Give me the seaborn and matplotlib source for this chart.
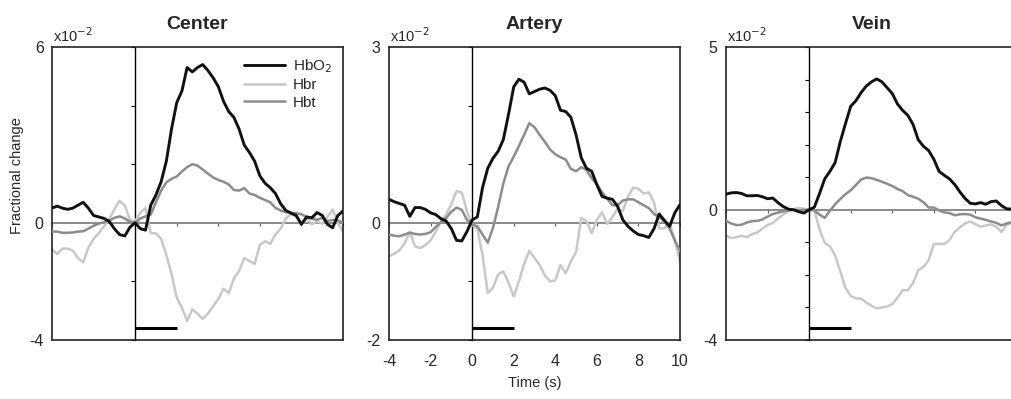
import numpy as np
import pandas as pd
import matplotlib
matplotlib.use("Agg")
import matplotlib.pyplot as plt
import matplotlib.transforms as mtransforms
import seaborn as sns

# time axis (s), one sample every 0.25 s
time = np.arange(-4, 10.01, 0.25)

# values in units of 1e-2 (fractional change)
center_hbo2 = [0.5, 0.57, 0.5, 0.46, 0.5, 0.6, 0.7, 0.5, 0.25, 0.2, 0.15, 0.05,
               -0.2, -0.4, -0.45, -0.15, 0.0, -0.2, -0.25, 0.6, 0.95, 1.4, 2.1, 3.2,
               4.1, 4.5, 5.3, 5.15, 5.3, 5.4, 5.2, 4.95, 4.65, 4.15, 3.8, 3.6,
               3.2, 2.65, 2.4, 2.1, 1.6, 1.35, 1.2, 1.0, 0.65, 0.42, 0.33, 0.25,
               -0.05, 0.2, 0.17, 0.35, 0.25, -0.05, -0.17, 0.25, 0.4]
center_hbr = [-0.9, -1.07, -0.88, -0.88, -0.95, -1.2, -1.35, -0.85, -0.55, -0.35, -0.12, 0.12,
              0.46, 0.75, 0.6, 0.1, 0.05, 0.35, 0.5, -0.35, -0.36, -0.55, -1.1, -1.75,
              -2.55, -2.9, -3.35, -2.95, -3.1, -3.28, -3.1, -2.85, -2.6, -2.25, -2.4, -1.9,
              -1.65, -1.2, -1.3, -1.4, -0.75, -0.63, -0.72, -0.4, -0.2, 0.15, 0.3, 0.2,
              -0.05, 0.15, -0.05, 0.05, -0.03, 0.2, 0.45, 0.0, -0.3]
center_hbt = [-0.3, -0.3, -0.34, -0.34, -0.33, -0.3, -0.29, -0.2, -0.1, -0.03, 0.02, 0.07,
              0.17, 0.22, 0.15, 0.03, 0.0, 0.15, 0.22, 0.28, 0.7, 1.1, 1.38, 1.5,
              1.58, 1.75, 1.9, 2.0, 1.95, 1.82, 1.68, 1.55, 1.46, 1.4, 1.31, 1.12,
              1.1, 1.18, 1.0, 0.95, 0.85, 0.78, 0.7, 0.51, 0.42, 0.36, 0.34, 0.33,
              0.29, 0.2, 0.14, 0.1, 0.17, 0.06, 0.1, 0.08, 0.0]

artery_hbo2 = [0.4, 0.36, 0.33, 0.3, 0.11, 0.26, 0.26, 0.23, 0.17, 0.14, 0.07, 0.03,
               -0.1, -0.3, -0.31, -0.15, 0.05, 0.1, 0.6, 0.93, 1.1, 1.22, 1.42, 1.85,
               2.32, 2.45, 2.4, 2.2, 2.24, 2.28, 2.3, 2.26, 2.17, 1.92, 1.9, 1.8,
               1.5, 1.11, 0.93, 0.88, 0.65, 0.45, 0.42, 0.4, 0.28, 0.05, -0.06, -0.14,
               -0.2, -0.22, -0.25, -0.1, 0.15, 0.04, -0.06, 0.17, 0.31]
artery_hbr = [-0.57, -0.53, -0.47, -0.35, -0.15, -0.4, -0.43, -0.38, -0.3, -0.15, 0.03, 0.14,
              0.32, 0.54, 0.52, 0.2, -0.04, -0.1, -0.55, -1.2, -1.11, -0.88, -0.83, -1.02,
              -1.26, -1.0, -0.7, -0.48, -0.6, -0.72, -0.9, -1.0, -0.98, -0.72, -0.86, -0.66,
              -0.5, 0.08, 0.03, -0.18, 0.05, 0.18, -0.02, 0.1, 0.24, 0.2, 0.45, 0.6,
              0.58, 0.5, 0.52, 0.35, -0.1, -0.09, 0.0, -0.3, -0.65]
artery_hbt = [-0.2, -0.22, -0.23, -0.2, -0.17, -0.19, -0.2, -0.19, -0.16, -0.07, 0.01, 0.08,
              0.19, 0.26, 0.22, 0.05, -0.03, -0.06, -0.2, -0.34, -0.09, 0.27, 0.67, 0.96,
              1.13, 1.31, 1.5, 1.7, 1.63, 1.5, 1.38, 1.25, 1.17, 1.12, 1.08, 0.92,
              0.88, 0.95, 0.9, 0.76, 0.66, 0.52, 0.41, 0.3, 0.3, 0.38, 0.4, 0.4,
              0.35, 0.3, 0.25, 0.15, 0.1, 0.02, -0.1, -0.3, -0.48]

vein_hbo2 = [0.48, 0.52, 0.53, 0.5, 0.43, 0.43, 0.44, 0.4, 0.34, 0.36, 0.22, 0.1,
             0.02, 0.0, -0.06, -0.1, 0.0, 0.08, 0.5, 0.95, 1.18, 1.45, 2.1, 2.65,
             3.18, 3.35, 3.6, 3.8, 3.93, 4.02, 3.93, 3.75, 3.57, 3.25, 3.05, 2.9,
             2.62, 2.15, 1.95, 1.82, 1.55, 1.18, 1.06, 0.95, 0.78, 0.55, 0.35, 0.2,
             0.18, 0.22, 0.17, 0.25, 0.27, 0.13, 0.03, 0.02, 0.02]
vein_hbr = [-0.79, -0.87, -0.84, -0.8, -0.84, -0.75, -0.7, -0.58, -0.47, -0.4, -0.27, -0.15,
            -0.05, 0.02, 0.06, 0.03, 0.0, -0.02, -0.6, -1.02, -1.12, -1.4, -1.9, -2.4,
            -2.65, -2.72, -2.73, -2.85, -2.95, -3.03, -3.0, -2.97, -2.9, -2.7, -2.47, -2.47,
            -2.25, -1.85, -1.76, -1.55, -1.05, -1.05, -1.05, -0.93, -0.68, -0.54, -0.42, -0.36,
            -0.44, -0.52, -0.48, -0.45, -0.52, -0.68, -0.47, -0.39, -0.39]
vein_hbt = [-0.34, -0.42, -0.47, -0.46, -0.39, -0.35, -0.34, -0.3, -0.21, -0.13, -0.09, -0.05,
            -0.02, 0.0, -0.02, 0.0, 0.0, -0.02, -0.15, -0.25, -0.03, 0.17, 0.33, 0.48,
            0.6, 0.76, 0.93, 0.99, 0.97, 0.92, 0.86, 0.8, 0.73, 0.64, 0.57, 0.45,
            0.4, 0.34, 0.23, 0.07, 0.07, -0.02, -0.08, -0.1, -0.17, -0.14, -0.13, -0.15,
            -0.23, -0.27, -0.31, -0.36, -0.4, -0.48, -0.42, -0.38, -0.38]

titles = ["Center", "Artery", "Vein"]
y_limits = [(-4, 6), (-2, 3), (-4, 5)]
inner_tick_step = [2, 1, 1]
signals = ["HbO$_2$", "Hbr", "Hbt"]
series = [
    [center_hbo2, center_hbr, center_hbt],
    [artery_hbo2, artery_hbr, artery_hbt],
    [vein_hbo2, vein_hbr, vein_hbt],
]
stim_on, stim_off = 0, 2
x_ticks = np.arange(-4, 11, 2)

colors = {"HbO$_2$": "#111111", "Hbr": "#c8c8c8", "Hbt": "#8c8c8c"}
widths = {"HbO$_2$": 2.1, "Hbr": 1.8, "Hbt": 1.8}
zorders = {"HbO$_2$": 4, "Hbr": 2, "Hbt": 3}

sns.set_style("white")
plt.rcParams["font.family"] = ["Liberation Sans", "DejaVu Sans"]

fig = plt.figure(figsize=(10.11, 3.99), dpi=100)
W, H = 1011, 399
lefts = [52, 389, 726]
ax_w, ax_top, ax_bot = 291, 47, 340

for i, name in enumerate(titles):
    pos = [lefts[i] / W, 1 - ax_bot / H, ax_w / W, (ax_bot - ax_top) / H]
    ymin, ymax = y_limits[i]

    # inner cross axes through the origin (drawn underneath)
    ax_in = fig.add_axes(pos)
    ax_in.set_facecolor("white")
    ax_in.set_xlim(-4, 10)
    ax_in.set_ylim(ymin, ymax)
    ax_in.spines["top"].set_visible(False)
    ax_in.spines["right"].set_visible(False)
    ax_in.spines["left"].set_position(("data", 0))
    ax_in.spines["bottom"].set_position(("data", 0))
    ax_in.spines["left"].set_color("black")
    ax_in.spines["left"].set_linewidth(1.0)
    ax_in.spines["bottom"].set_color("#8a8a8a")
    ax_in.spines["bottom"].set_linewidth(1.4)
    ax_in.set_yticks(np.arange(ymin, ymax + 0.01, inner_tick_step[i]))
    ax_in.set_xticks(x_ticks)
    ax_in.tick_params(axis="y", direction="out", length=3, width=0.8, color="black",
                      labelleft=False, left=True)
    ax_in.tick_params(axis="x", direction="out", length=2.5, width=0.8, color="#555555",
                      labelbottom=False, bottom=True)

    # main boxed axes with the curves
    ax = fig.add_axes(pos, facecolor="none")
    df = pd.DataFrame({"time": np.tile(time, 3),
                       "value": np.concatenate(series[i]),
                       "signal": np.repeat(signals, len(time))})
    for sig in ["Hbr", "Hbt", "HbO$_2$"]:
        sns.lineplot(data=df[df["signal"] == sig], x="time", y="value", color=colors[sig],
                     linewidth=widths[sig], label=sig, ax=ax, zorder=zorders[sig],
                     legend=False)

    trans = mtransforms.blended_transform_factory(ax.transData, ax.transAxes)
    ax.plot([stim_on, stim_off], [0.04, 0.04], color="black", linewidth=2.2,
            transform=trans, solid_capstyle="butt", zorder=5)

    ax.set_xlim(-4, 10)
    ax.set_ylim(ymin, ymax)
    for sp in ax.spines.values():
        sp.set_visible(True)
        sp.set_color("#222222")
        sp.set_linewidth(1.2)
    ax.set_yticks([ymin, 0, ymax])
    ax.set_yticklabels([str(ymin), "0", str(ymax)])
    ax.tick_params(axis="y", length=0, pad=6, labelsize=11.5)
    if name == "Artery":
        ax.set_xticks(x_ticks)
        ax.set_xticklabels([str(v) for v in x_ticks])
        ax.tick_params(axis="x", length=0, pad=10, labelsize=11.5)
        ax.set_xlabel("Time (s)", fontsize=10.5, labelpad=5)
    else:
        ax.set_xticks([])
        ax.set_xlabel("")
    if name == "Center":
        ax.set_ylabel("Fractional change", fontsize=10.5)
        ax.yaxis.set_label_coords(-0.095, 0.56)
        h, l = ax.get_legend_handles_labels()
        order = [l.index(s) for s in signals]
        ax.legend([h[k] for k in order], [l[k] for k in order], loc="upper right",
                  bbox_to_anchor=(1.0, 1.0), frameon=False, fontsize=11,
                  labelspacing=0.2, handlelength=2.7, handletextpad=0.5,
                  borderaxespad=0.3)
    else:
        ax.set_ylabel("")
    ax.set_title(name, fontweight="bold", fontsize=14, pad=13)
    ax.text(0.005, 1.008, r"x10$^{-2}$", transform=ax.transAxes, fontsize=10.5,
            ha="left", va="bottom")

fig.savefig("out.png", dpi=100)
